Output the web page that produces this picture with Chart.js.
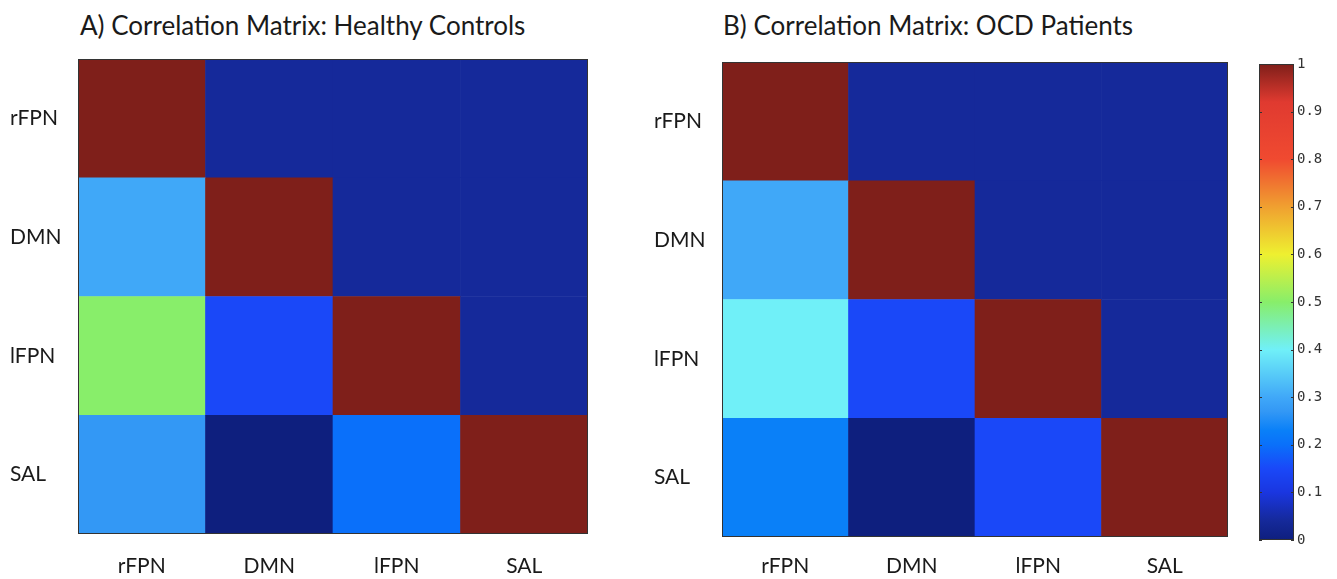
<!DOCTYPE html>
<html>
<head>
<meta charset="utf-8">
<script src="https://cdn.jsdelivr.net/npm/chart.js@4.4.1/dist/chart.umd.min.js"></script>
<style>
  body { margin: 0; background: #fff; width: 1337px; height: 579px; overflow: hidden; position: relative; font-family: Lato, sans-serif; }
  .box { position: absolute; top: 0; height: 579px; }
  .title { position: absolute; top: 9px; font-size: 26px; color: #1a1a1a; white-space: nowrap; }
</style>
</head>
<body>
<div class="title" style="left:80px">A) Correlation Matrix: Healthy Controls</div>
<div class="title" style="left:723px">B) Correlation Matrix: OCD Patients</div>
<div class="box" style="left:0;width:600px"><canvas id="healthy"></canvas></div>
<div class="box" style="left:640px;width:600px"><canvas id="ocd"></canvas></div>
<div class="box" style="left:1240px;width:97px"><canvas id="colorbar"></canvas></div>
<script>
// networks, top row first
const regions = ['rFPN', 'DMN', 'lFPN', 'SAL'];

// correlation values, rows top to bottom
const healthyValues = [
  [1.00, 0.04, 0.04, 0.04],
  [0.30, 1.00, 0.04, 0.04],
  [0.50, 0.15, 1.00, 0.04],
  [0.27, 0.00, 0.20, 1.00]
];
const ocdValues = [
  [1.00, 0.04, 0.04, 0.04],
  [0.30, 1.00, 0.04, 0.04],
  [0.40, 0.15, 1.00, 0.04],
  [0.23, 0.00, 0.15, 1.00]
];

const colorbarTicks = [0, 0.1, 0.2, 0.3, 0.4, 0.5, 0.6, 0.7, 0.8, 0.9, 1];

// jet-like colormap as it looks in the figure
const mapStops  = [0, 0.04, 0.10, 0.15, 0.20, 0.23, 0.27, 0.30, 0.40, 0.50, 0.60, 0.70, 0.80, 0.92, 1];
const mapColors = ['#0e1f7e', '#15299a', '#1a36e0', '#1a48f8', '#0a70fa', '#0a80f8', '#3398f5', '#40a8f8',
                   '#70f0f8', '#88ee6a', '#eef030', '#f0a030', '#f04a30', '#e03a30', '#7f1f1a'];

function hexToRgb(h) {
  return [parseInt(h.slice(1, 3), 16), parseInt(h.slice(3, 5), 16), parseInt(h.slice(5, 7), 16)];
}

function colorFor(v) {
  for (let i = 1; i < mapStops.length; i++) {
    if (v <= mapStops[i]) {
      const t = (v - mapStops[i - 1]) / (mapStops[i] - mapStops[i - 1]);
      const a = hexToRgb(mapColors[i - 1]), b = hexToRgb(mapColors[i]);
      const c = a.map((x, k) => Math.round(x + (b[k] - x) * t));
      return 'rgb(' + c.join(',') + ')';
    }
  }
  return mapColors[mapColors.length - 1];
}

const font = { family: 'Lato', size: 21 };

// thin dark frame round the plot area
const frame = {
  id: 'frame',
  afterDatasetsDraw(chart) {
    const a = chart.chartArea, ctx = chart.ctx;
    ctx.save();
    ctx.strokeStyle = '#333';
    ctx.lineWidth = 1;
    ctx.strokeRect(a.left + 0.5, a.top + 0.5, a.right - a.left - 1, a.bottom - a.top - 1);
    ctx.restore();
  }
};

function matrixChart(id, values, pad, xAxisHeight, xTickPad) {
  // stacked bars, bottom row first, one unit tall each
  const datasets = values.slice().reverse().map(row => ({
    data: row.map(() => 1),
    backgroundColor: row.map(colorFor),
    borderWidth: 0,
    barPercentage: 1,
    categoryPercentage: 1
  }));

  return new Chart(document.getElementById(id), {
    type: 'bar',
    data: { labels: regions, datasets: datasets },
    options: {
      responsive: true,
      maintainAspectRatio: false,
      animation: false,
      layout: { padding: pad },
      plugins: { legend: { display: false }, tooltip: { enabled: false } },
      scales: {
        x: {
          stacked: true,
          grid: { display: false, drawTicks: false },
          border: { display: false },
          ticks: { font: font, color: '#1a1a1a', padding: xTickPad },
          afterFit: a => { a.height = xAxisHeight; }
        },
        y: {
          stacked: true,
          min: 0,
          max: regions.length,
          grid: { display: false, drawTicks: false },
          border: { display: false },
          afterBuildTicks: a => { a.ticks = regions.map((r, i) => ({ value: i + 0.5 })); },
          afterFit: a => { a.width = 68; },
          ticks: {
            font: font,
            color: '#1a1a1a',
            crossAlign: 'far',
            callback: v => regions[regions.length - 1 - Math.floor(v)]
          }
        }
      }
    },
    plugins: [frame]
  });
}

matrixChart('healthy', healthyValues, { left: 10, right: 12, top: 59, bottom: 0 }, 45, 20);
matrixChart('ocd', ocdValues, { left: 14, right: 12, top: 62, bottom: 0 }, 42, 17);

// inward tick marks on the colorbar
const barTicks = {
  id: 'barTicks',
  afterDatasetsDraw(chart) {
    const a = chart.chartArea, y = chart.scales.y, ctx = chart.ctx;
    ctx.save();
    ctx.strokeStyle = '#333';
    ctx.lineWidth = 1;
    y.ticks.forEach(t => {
      const py = Math.round(y.getPixelForValue(t.value)) + 0.5;
      ctx.beginPath();
      ctx.moveTo(a.left, py); ctx.lineTo(a.left + 3, py);
      ctx.moveTo(a.right, py); ctx.lineTo(a.right - 3, py);
      ctx.stroke();
    });
    ctx.restore();
  }
};

new Chart(document.getElementById('colorbar'), {
  type: 'bar',
  data: {
    labels: [''],
    datasets: [{
      data: [[0, 1]],
      borderWidth: 0,
      barPercentage: 1,
      categoryPercentage: 1,
      backgroundColor: ctx => {
        const chart = ctx.chart, y = chart.scales.y;
        if (!chart.chartArea || !y) return mapColors[0];
        const g = chart.ctx.createLinearGradient(0, y.getPixelForValue(0), 0, y.getPixelForValue(1));
        mapStops.forEach((s, i) => g.addColorStop(s, mapColors[i]));
        return g;
      }
    }]
  },
  options: {
    responsive: true,
    maintainAspectRatio: false,
    animation: false,
    layout: { padding: { left: 19, right: 0, top: 64, bottom: 39 } },
    plugins: { legend: { display: false }, tooltip: { enabled: false } },
    scales: {
      x: { display: false },
      y: {
        position: 'right',
        min: 0,
        max: 1,
        grid: { display: false, drawTicks: false },
        border: { display: false },
        afterBuildTicks: a => { a.ticks = colorbarTicks.map(v => ({ value: v })); },
        afterFit: a => { a.width = 43; },
        ticks: {
          padding: 3,
          color: '#333',
          font: { family: 'DejaVu Sans Mono', size: 14 },
          callback: v => (v === 0 || v === 1) ? String(v) : v.toFixed(1)
        }
      }
    }
  },
  plugins: [frame, barTicks]
});
</script>
</body>
</html>
